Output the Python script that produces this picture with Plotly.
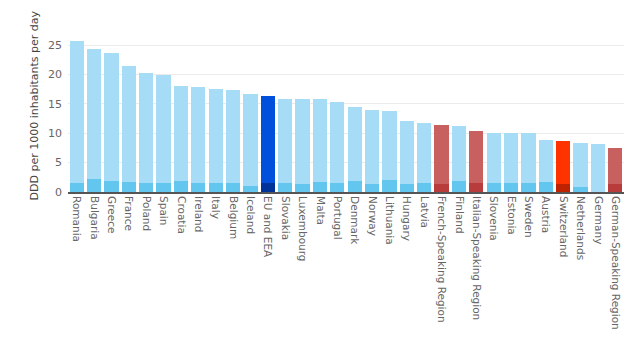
import plotly.graph_objects as go

categories = ["Romania", "Bulgaria", "Greece", "France", "Poland", "Spain", "Croatia",
              "Ireland", "Italy", "Belgium", "Iceland", "EU and EEA", "Slovakia",
              "Luxembourg", "Malta", "Portugal", "Denmark", "Norway", "Lithuania",
              "Hungary", "Latvia", "French-Speaking Region", "Finland",
              "Italian-Speaking Region", "Slovenia", "Estonia", "Sweden", "Austria",
              "Switzerland", "Netherlands", "Germany", "German-Speaking Region"]

total = [25.6, 24.4, 23.6, 21.5, 20.2, 19.9, 18.1, 17.8, 17.5, 17.4, 16.7, 16.4, 15.9,
         15.8, 15.8, 15.3, 14.4, 13.9, 13.7, 12.0, 11.7, 11.4, 11.3, 10.3, 10.1, 10.1,
         10.1, 8.8, 8.6, 8.3, 8.1, 7.5]

hospital = [1.5, 2.15, 1.87, 1.65, 1.5, 1.6, 1.93, 1.6, 1.6, 1.6, 1.1, 1.5, 1.5,
            1.4, 1.7, 1.6, 1.87, 1.3, 2.04, 1.3, 1.6, 1.3, 1.93, 1.5, 1.48, 1.48,
            1.5, 1.7, 1.4, 0.8, 0.0, 1.4]

community = [round(t - h, 2) for t, h in zip(total, hospital)]

swiss_regions = {"French-Speaking Region", "Italian-Speaking Region", "German-Speaking Region"}

def colors(c):
    if c == "EU and EEA":
        return "#00339a", "#0050dc"
    if c == "Switzerland":
        return "#bf2200", "#ff3300"
    if c in swiss_regions:
        return "#b93c3c", "#c86060"
    return "#63c6ee", "#a6dcf5"

bot_cols = [colors(c)[0] for c in categories]
top_cols = [colors(c)[1] for c in categories]

fig = go.Figure()
fig.add_trace(go.Bar(x=categories, y=hospital, marker=dict(color=bot_cols, line=dict(width=0)),
                     name="Hospital sector"))
fig.add_trace(go.Bar(x=categories, y=community, marker=dict(color=top_cols, line=dict(width=0)),
                     name="Community"))

fig.update_layout(
    barmode="stack",
    bargap=0.18,
    width=640, height=341,
    margin=dict(l=68, r=16, t=40, b=149),
    paper_bgcolor="white", plot_bgcolor="white",
    showlegend=False,
    font=dict(family="DejaVu Sans", color="#555555"),
    xaxis=dict(tickangle=90, tickfont=dict(size=10.5, color="#666666"), showgrid=False,
               showline=True, linecolor="#555555", linewidth=2, ticks=""),
    yaxis=dict(range=[0, 25.85], tickvals=[0, 5, 10, 15, 20, 25], tickfont=dict(size=11, color="#666666"),
               showgrid=True, gridcolor="#ebebeb", gridwidth=1, zeroline=False, ticks="",
               ticklabelstandoff=5),
    annotations=[dict(text="DDD per 1000 inhabitants per day", xref="paper", yref="paper",
                      x=-0.061, y=0.57, xanchor="center", yanchor="middle",
                      textangle=-90, showarrow=False,
                      font=dict(size=11, color="#444444"))],
)

fig.write_html("out.html")
